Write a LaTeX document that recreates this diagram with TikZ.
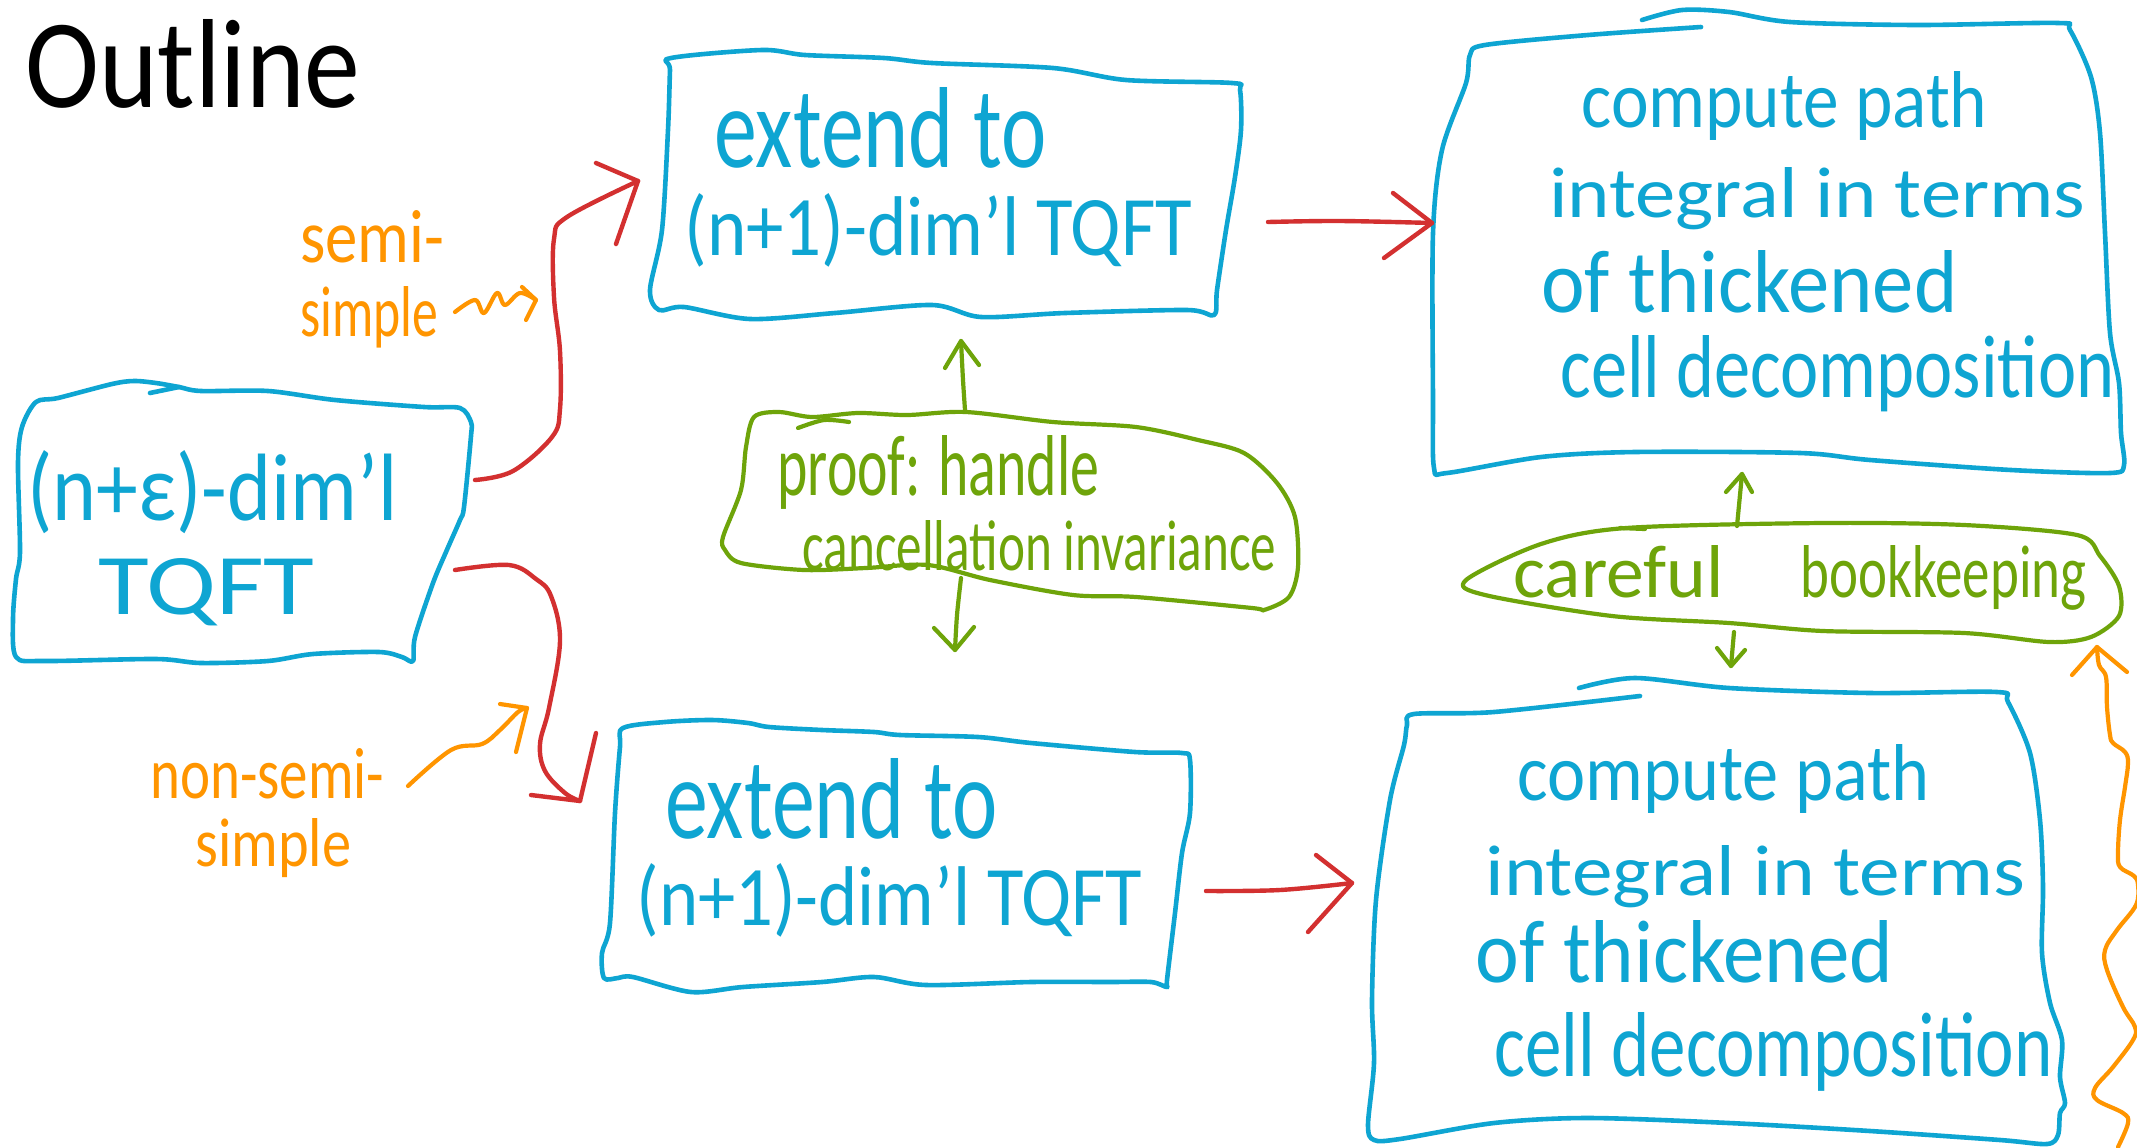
\documentclass[tikz,border=0pt]{standalone}
\usepackage{fontspec}
\setmainfont{Carlito}
\usepackage{graphicx}
\definecolor{hblue}{HTML}{0EA5D2}
\definecolor{hgreen}{HTML}{6EA40A}
\definecolor{hred}{HTML}{D33030}
\definecolor{horange}{HTML}{FF9500}
\newcommand{\fitwh}[3]{\resizebox{#1}{#2}{#3}}
\begin{document}
\begin{tikzpicture}[x=0.5pt,y=-0.5pt,
  hw/.style={inner sep=0pt, anchor=base west},
  bluebox/.style={draw=hblue, line width=2.3pt, line cap=round, line join=round},
  greenbox/.style={draw=hgreen, line width=2.1pt, line cap=round, line join=round},
  redline/.style={draw=hred, line width=2.2pt, line cap=round, line join=round},
  greenline/.style={draw=hgreen, line width=2.1pt, line cap=round, line join=round},
  orangeline/.style={draw=horange, line width=2.1pt, line cap=round, line join=round}]
\useasboundingbox[fill=white] (0,0) rectangle (2137,1147);

% ---------- texts ----------
\node[hw, text=black] (title) at (25,107) {\fitwh{167.5pt}{44pt}{Outline}};

\node[hw, text=hblue] (A1) at (27,520) {\fitwh{185pt}{35pt}{(n+ε)-dim'l}};
\node[hw, text=hblue] (A2) at (98,614) {\fitwh{108pt}{28pt}{TQFT}};

\node[hw, text=hblue] (B1) at (714,167) {\fitwh{166pt}{40pt}{extend to}};
\node[hw, text=hblue] (B2) at (684,255) {\fitwh{254pt}{31pt}{(n+1)-dim'l TQFT}};

\node[hw, text=hblue] (C1) at (665,838) {\fitwh{166pt}{40pt}{extend to}};
\node[hw, text=hblue] (C2) at (636,925) {\fitwh{253pt}{31pt}{(n+1)-dim'l TQFT}};

\node[hw, text=hblue] (D1) at (1581,127) {\fitwh{203pt}{28pt}{compute path}};
\node[hw, text=hblue] (D2) at (1549,217) {\fitwh{268pt}{25pt}{integral in terms}};
\node[hw, text=hblue] (D3) at (1541,312) {\fitwh{208pt}{31pt}{of thickened}};
\node[hw, text=hblue] (D4) at (1560,397) {\fitwh{277pt}{31pt}{cell decomposition}};

\node[hw, text=hblue] (E1) at (1517,800) {\fitwh{206pt}{28pt}{compute path}};
\node[hw, text=hblue] (E2) at (1485,895) {\fitwh{270pt}{25pt}{integral in terms}};
\node[hw, text=hblue] (E3) at (1475,982) {\fitwh{209pt}{31pt}{of thickened}};
\node[hw, text=hblue] (E4) at (1494,1076) {\fitwh{279pt}{32pt}{cell decomposition}};

\node[hw, text=hgreen] (G1) at (777,495) {\fitwh{161pt}{30pt}{proof: handle}};
\node[hw, text=hgreen] (G2) at (802,570) {\fitwh{237pt}{25pt}{cancellation invariance}};

\node[hw, text=hgreen] (H1) at (1513,597) {\fitwh{105pt}{26pt}{careful}};
\node[hw, text=hgreen] (H2) at (1800,597) {\fitwh{143pt}{26pt}{bookkeeping}};

\node[hw, text=horange] (S1) at (300,262) {\fitwh{72pt}{26pt}{semi-}};
\node[hw, text=horange] (S2) at (300,336) {\fitwh{69pt}{25pt}{simple}};
\node[hw, text=horange] (N1) at (150,798) {\fitwh{117pt}{25pt}{non-semi-}};
\node[hw, text=horange] (N2) at (195,866) {\fitwh{78pt}{24pt}{simple}};

% ---------- outlines ----------
% box A
\draw[bluebox] plot[smooth cycle, tension=0.5] coordinates {(36,402) (58,398) (112,384) (134,381) (156,383) (179,387) (201,391) (268,391) (335,400) (424,407) (460,408) (471,422) (471,436) (464,507) (460,520) (446,552) (433,583) (415,637) (413,661) (402,657) (379,652) (313,654) (268,661) (201,663) (156,659) (45,661) (16,657) (13,619) (16,579) (20,552) (18,463) (22,427)};
\draw[bluebox] (150,393) -- (179,387);
% box B
\draw[bluebox] plot[smooth cycle, tension=0.5] coordinates {(671,58) (762,50) (805,55) (884,58) (932,63) (1053,68) (1126,80) (1232,83) (1240,90) (1241,130) (1235,177) (1226,230) (1217,290) (1214,315) (1187,310) (1065,313) (981,317) (932,305) (835,313) (750,319) (684,307) (659,310) (650,290) (662,230) (668,130) (670,70)};
% box C
\draw[bluebox] plot[smooth cycle, tension=0.5] coordinates {(623,728) (665,722) (712,720) (748,723) (769,727) (822,730) (874,732) (900,735) (978,737) (1031,743) (1135,752) (1182,753) (1190,760) (1190,813) (1182,853) (1175,913) (1167,980) (1167,987) (1151,982) (1109,982) (1031,982) (926,985) (874,977) (822,982) (743,987) (691,992) (633,977) (618,978) (604,978) (602,953) (610,923) (615,813) (620,747)};
% box D
\draw[bluebox] plot[smooth, tension=0.5] coordinates {(1701,27) (1588,35) (1485,45) (1470,55) (1466,83) (1442,150) (1433,233) (1433,400) (1434,468) (1447,473) (1541,457) (1635,452) (1800,453) (1870,460) (2011,470) (2110,473) (2124,465) (2121,433) (2119,383) (2110,333) (2105,233) (2100,133) (2091,77) (2070,30) (2058,23) (1917,25) (1790,22) (1729,12) (1682,10) (1642,20)};
% box E
\draw[bluebox] plot[smooth, tension=0.5] coordinates {(1640,696) (1494,712) (1414,714) (1407,725) (1404,745) (1390,800) (1376,900) (1372,1000) (1374,1063) (1368,1125) (1374,1140) (1400,1139) (1494,1123) (1588,1118) (1729,1123) (1870,1131) (2000,1140) (2047,1144) (2058,1135) (2060,1113) (2065,1103) (2060,1077) (2062,1040) (2050,1003) (2042,953) (2043,887) (2040,820) (2030,753) (2008,702) (1997,692) (1870,693) (1729,688) (1635,678) (1579,688)};
% green cloud 1
\draw[greenbox] plot[smooth cycle, tension=0.5] coordinates {(754,417) (779,412) (812,417) (858,413) (907,415) (966,412) (1053,422) (1136,427) (1198,440) (1244,453) (1277,483) (1295,517) (1298,567) (1289,597) (1264,610) (1252,608) (1136,597) (1073,595) (990,580) (928,565) (866,568) (804,570) (741,563) (725,550) (723,537) (741,490) (746,447)};
\draw[greenbox] plot[smooth, tension=0.5] coordinates {(798,428) (824,420) (849,422)};
% green cloud 2
\draw[greenbox] plot[smooth cycle, tension=0.5] coordinates {(1466,580) (1541,544) (1626,528) (1823,523) (1964,525) (2077,535) (2100,556) (2119,586) (2119,616) (2091,637) (2049,642) (1964,633) (1823,631) (1729,623) (1612,616) (1485,595)};
\draw[greenbox] (1620,528) -- (1645,529);

% ---------- connector end points ----------
\coordinate (A-r1) at (475,480);
\coordinate (A-r2) at (455,570);
\coordinate (B-in) at (638,181);
\coordinate (B-out) at (1268,222);
\coordinate (C-in) at (580,801);
\coordinate (C-out) at (1206,891);
\coordinate (D-in) at (1432,223);
\coordinate (E-in) at (1352,883);
\coordinate (G-top) at (965,410);
\coordinate (G-bot) at (961,578);
\coordinate (B-bot) at (961,341);
\coordinate (C-top) at (955,650);
\coordinate (H-top) at (1737,526);
\coordinate (H-bot) at (1734,632);
\coordinate (D-bot) at (1742,474);
\coordinate (E-top) at (1731,666);
\coordinate (S-end) at (455,312);
\coordinate (R1-hit) at (536,300);
\coordinate (N-end) at (408,786);
\coordinate (R2-hit) at (527,708);
\coordinate (O3-start) at (2118,1147);
\coordinate (H-corner) at (2097,647);

% ---------- red arrows ----------
\draw[redline] plot[smooth, tension=0.6] coordinates {(A-r1) (513,471) (552,437) (560,409) (560,351) (554,297) (554,239) (567,217) (B-in)};
\draw[redline] (596,163) -- (B-in) -- (616,244);
\draw[redline] plot[smooth, tension=0.6] coordinates {(A-r2) (509,565) (536,579) (551,596) (560,641) (549,708) (540,744) (545,771) (565,793) (C-in)};
\draw[redline] (531,795) -- (C-in) -- (596,733);
\draw[redline] plot[smooth, tension=0.6] coordinates {(B-out) (1340,221) (D-in)};
\draw[redline] (1393,193) -- (D-in) -- (1384,258);
\draw[redline] plot[smooth, tension=0.6] coordinates {(C-out) (1280,890) (E-in)};
\draw[redline] (1316,855) -- (E-in) -- (1308,932);

% ---------- green arrows ----------
\draw[greenline] plot[smooth] coordinates {(G-top) (963,380) (B-bot)};
\draw[greenline] (945,368) -- (B-bot) -- (979,365);
\draw[greenline] plot[smooth] coordinates {(G-bot) (957,615) (C-top)};
\draw[greenline] (934,628) -- (C-top) -- (974,627);
\draw[greenline] (H-top) -- (D-bot);
\draw[greenline] (1726,492) -- (D-bot) -- (1752,492);
\draw[greenline] (H-bot) -- (E-top);
\draw[greenline] (1717,648) -- (E-top) -- (1745,650);

% ---------- orange arrows ----------
\draw[orangeline] plot[smooth, tension=0.6] coordinates {(S-end) (475,300) (484,313) (497,293) (505,305) (520,293) (R1-hit)};
\draw[orangeline] (522,287) -- (R1-hit) -- (526,320);
\draw[orangeline] plot[smooth, tension=0.6] coordinates {(N-end) (451,750) (482,744) (500,730) (518,712) (R2-hit)};
\draw[orangeline] (500,704) -- (R2-hit) -- (516,752);
\draw[orangeline] plot[smooth, tension=0.6] coordinates {(O3-start) (2128,1123) (2123,1113) (2097,1100) (2095,1088) (2113,1067) (2133,1040) (2135,1027) (2123,1007) (2107,970) (2105,950) (2117,930) (2136,905) (2138,885) (2134,876) (2120,867) (2118,853) (2120,820) (2125,787) (2128,763) (2125,752) (2113,743) (2110,735) (2107,707) (2106,677) (2099,665) (H-corner)};
\draw[orangeline] (2072,675) -- (H-corner) -- (2127,672);
\end{tikzpicture}
\end{document}
